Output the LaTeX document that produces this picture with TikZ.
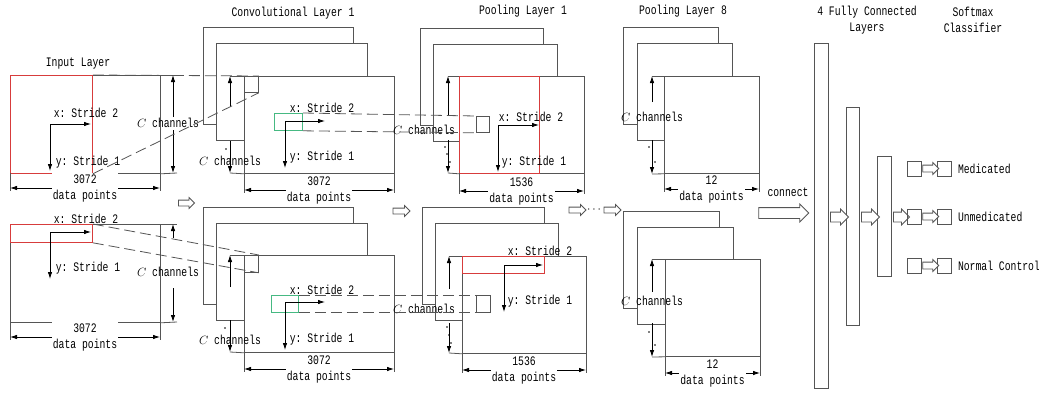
\documentclass[tikz,border=0pt]{standalone}
\usepackage{fontspec}
\setmainfont{Liberation Mono}[FakeStretch=0.75]
\usepackage{tikz}
\usetikzlibrary{arrows.meta,shapes.arrows}

\definecolor{linegray}{RGB}{85,85,85}
\definecolor{winred}{RGB}{215,60,60}
\definecolor{wingreen}{RGB}{70,185,130}
\frenchspacing

\begin{document}
\begin{tikzpicture}[x=1pt,y=-1pt,
  font=\fontsize{13}{16}\selectfont,
  layer/.style={draw=linegray,fill=white,line width=0.8pt,anchor=north west,inner sep=0,minimum height=97pt},
  win/.style={draw=#1,line width=0.8pt,anchor=north west,inner sep=0},
  ext/.style={linegray,line width=0.8pt},
  dim/.style={-{Latex[length=7pt,width=4.5pt]},line width=0.8pt},
  dimboth/.style={{Latex[length=7pt,width=4.5pt]}-{Latex[length=7pt,width=4.5pt]},line width=0.8pt},
  lbl/.style={inner sep=1pt},
  dimlbl/.style={fill=white,align=center,inner sep=1pt},
  link/.style={linegray,line width=0.8pt,dash pattern=on 11pt off 5pt},
  hollow/.style={single arrow,draw=linegray,fill=white,line width=0.8pt,inner xsep=0pt,inner ysep=2.5pt,
    minimum height=#1,single arrow head extend=2.5pt},
  hollow/.default=17pt,
  box/.style={draw=linegray,line width=0.8pt,anchor=north west,inner sep=0,minimum width=14pt,minimum height=15pt},
]
\useasboundingbox (0,0) rectangle (1039,394);

% 見出し
\node (tin)  at (78,64)  {Input Layer};
\node (tcv)  at (293,13) {Convolutional Layer 1};
\node (tp1)  at (523,11) {Pooling Layer 1};
\node (tp8)  at (683,11) {Pooling Layer 8};
\node[align=center] (tfc) at (867,20) {4 Fully Connected\\Layers};
\node[align=center] (tsm) at (973,20) {Softmax\\Classifier};

% 入力層
\node[layer,minimum width=150pt,minimum height=98pt] (in1) at (10,75) {};
\node[win=winred,minimum width=82pt,minimum height=98pt] (in1r) at (10,75) {};
\node[layer,minimum width=150pt,minimum height=98pt] (in2) at (10,224) {};
\node[win=winred,minimum width=82pt,minimum height=18pt] (in2r) at (10,224) {};
\draw[ext] (in1.north east) -- (177,75);
\draw[ext] (in1.south east) -- (177,173);
\draw[ext] (in2.north east) -- (177,224);
\draw[ext] (in2.south east) -- (177,322);

% 畳み込み層・プーリング層(重なった矩形)
\foreach \n/\x/\y/\w in {c1a/203/27/150, c1b/216/43/151, c1c/244/76/150,
    c2a/203/207/150, c2b/216/223/151, c2c/244/255/150,
    p1a/420/28/123, p1b/433/44/124, p1c/459/76/125,
    p2a/422/207/122, p2b/435/223/123, p2c/462/256/124,
    q1a/623/27/95, q1b/637/43/95, q1c/664/76/95,
    q2a/623/211/96, q2b/637/227/96, q2c/665/259/95}
  \node[layer,minimum width=\w pt] (\n) at (\x,\y) {};

% 窓
\node[win=linegray,minimum width=14pt,minimum height=16pt] (c1s) at (244,76) {};
\node[win=linegray,minimum width=14pt,minimum height=17pt] (c2s) at (244,255) {};
\node[win=wingreen,minimum width=28pt,minimum height=17pt] (c1g) at (274,113) {};
\node[win=wingreen,minimum width=27pt,minimum height=17pt] (c2g) at (271,295) {};
\node[win=winred,minimum width=80pt,minimum height=97pt] (p1r) at (459,76) {};
\node[win=winred,minimum width=82pt,minimum height=17pt] (p2r) at (462,256) {};
\node[win=linegray,minimum width=13pt,minimum height=16pt] (p1s) at (476,116) {};
\node[win=linegray,minimum width=14pt,minimum height=17pt] (p2s) at (476,295) {};

% ストライド
\draw[dimboth] (50,171) |- (91,124);
\draw[dimboth] (50,279) |- (91,232);
\draw[dimboth] (285,168) |- (325,121);
\draw[dimboth] (285,350) |- (325,302);
\draw[dimboth] (498,172) |- (539,125);
\draw[dimboth] (504,312) |- (543,265);
\foreach \n/\a/\b/\c/\d in {in1/86/113/88/162, in2/86/219/88/268, c1/322/108/322/157,
    c2/322/290/322/339, p1/531/117/534/162, p2/540/251/540/301} {
  \node[lbl] (\n-sx) at (\a,\b) {x: Stride 2};
  \node[lbl] (\n-sy) at (\c,\d) {y: Stride 1};
}

% C channels
\foreach \n/\x/\a/\b/\c/\d/\tx/\ty in {in1/173/75/117/130/173/168/123, in2/173/224/238/288/322/168/272,
    c1/230/76/107/141/173/230/161, c2/230/255/287/320/352/230/340,
    p1/448/76/115/140/173/424/130, p2/449/256/289/323/353/424/309,
    q1/652/76/102/140/174/652/117, q2/652/259/292/323/357/652/301} {
  \draw[dim] (\x,\b) -- (\x,\a);
  \draw[dim] (\x,\c) -- (\x,\d);
  \node[lbl] (\n-ch) at (\tx,\ty) {$C$ channels};
}
\draw[ext] (c1c.north west) -- (230,76);  \draw[ext] (c1c.south west) -- (230,173);
\draw[ext] (c2c.north west) -- (230,255); \draw[ext] (c2c.south west) -- (230,352);
\draw[ext] (p1c.north west) -- (448,76);  \draw[ext] (p1c.south west) -- (448,173);
\draw[ext] (p2c.north west) -- (449,256); \draw[ext] (p2c.south west) -- (449,353);
\draw[ext] (q1c.north west) -- (652,76);  \draw[ext] (q1c.south west) -- (652,174);
\draw[ext] (q2c.north west) -- (652,259); \draw[ext] (q2c.south west) -- (652,357);
\foreach \p in {(226,149),(225,328),(445,147),(447,154),(450,162),(447,327),(449,335),(451,343),
    (649,147),(655,162),(649,332),(655,345)}
  \fill \p circle (0.8);

% data points
\foreach \n/\l/\r/\t/\y/\v in {in1/10/160/173/188/3072, in2/10/160/322/337/3072,
    c1/244/394/173/190/3072, c2/244/394/352/369/3072,
    p1/459/584/173/191/1536, p2/462/586/353/370/1536,
    q1/664/759/174/189/12, q2/665/760/357/373/12} {
  \draw[ext] (\l,\t) -- (\l,\y+3);
  \draw[ext] (\r,\t) -- (\r,\y+3);
  \draw[dimboth] (\l,\y) -- (\r,\y);
  \node[dimlbl] (\n-dp) at ({(\l+\r)/2},\y) {\v\\data points};
}

% 破線
\draw[link] (in1r.north east) -- (c1s.north east);
\draw[link] (in1r.south east) -- (c1s.south east);
\draw[link] (in2r.north east) -- (c2s.north east);
\draw[link] (in2r.south east) -- (c2s.south east);
\draw[link] (c1g.north east) -- (p1s.north west);
\draw[link] (c1g.south east) -- (p1s.south west);
\draw[link] (c2g.north east) -- (p2s.north west);
\draw[link] (c2g.south east) -- (p2s.south west);

% 層間の矢印
\node[hollow=16pt] (ar1) at (185,203) {};
\node[hollow=17pt] (ar2) at (400,211) {};
\node[hollow=17pt] (ar3) at (576,210) {};
\node (ardots) at (594,210) {$\cdots$};
\node[hollow=17pt] (ar4) at (611,210) {};
\node[hollow=50pt,inner ysep=5pt,single arrow head extend=3.5pt] (arc) at (781,213) {};
\node (tcn) at (788,192) {connect};

% 全結合層
\node[box,minimum width=14pt,minimum height=345pt] (fc1) at (814,43) {};
\node[box,minimum width=13pt,minimum height=218pt] (fc2) at (846,107) {};
\node[box,minimum width=14pt,minimum height=120pt] (fc3) at (877,156) {};
\node[hollow=18pt,inner ysep=4.5pt,single arrow head extend=3pt] (fa1) at (837,217) {};
\node[hollow=18pt,inner ysep=4.5pt,single arrow head extend=3pt] (fa2) at (868,217) {};
\node[hollow=16pt,inner ysep=4.5pt,single arrow head extend=3pt] (fa3) at (899,217) {};

% Softmax
\foreach \n/\y/\t in {s1/161/Medicated, s2/209/Unmedicated, s3/258/Normal Control} {
  \node[box] (\n l) at (907,\y) {};
  \node[box] (\n r) at (937,\y) {};
  \node[hollow=16pt,inner ysep=3pt] (\n a) at (929,\y+7.5) {};
  \node[anchor=west,inner sep=1pt] (\n t) at (\n r.east) {\hspace{5pt}\t};
}
\end{tikzpicture}
\end{document}
